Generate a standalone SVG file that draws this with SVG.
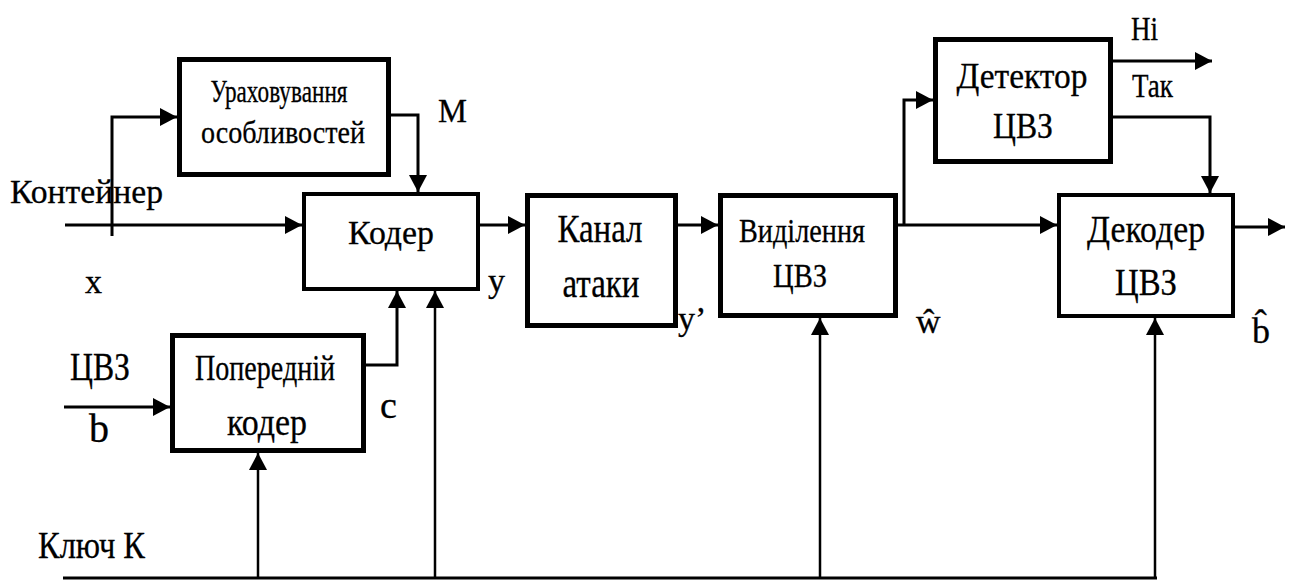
<svg xmlns="http://www.w3.org/2000/svg" width="1295" height="582" viewBox="0 0 1295 582" font-family="Liberation Serif, serif">
<style>
.box{fill:#fff;stroke:#000;stroke-width:5}
.thin{stroke-width:4}
.ln{fill:none;stroke:#000;stroke-width:3}
.key{fill:none;stroke:#000;stroke-width:2.5}
.c{text-anchor:middle}
text{stroke:#000;stroke-width:0.3}
</style>
<defs>
<marker id="ah" markerUnits="userSpaceOnUse" markerWidth="18" markerHeight="18" refX="17" refY="9" orient="auto">
<path d="M0,0 L17,9 L0,18 z" fill="#000"/>
</marker>
</defs>
<rect width="1295" height="582" fill="#fff"/>
<g id="connectors">
<line class="ln" x1="65" y1="225" x2="302" y2="225" marker-end="url(#ah)"/>
<polyline class="ln" points="112,236 112,117 177,117" marker-end="url(#ah)"/>
<polyline class="ln" points="391,115 418,115 418,192" marker-end="url(#ah)"/>
<line class="ln" x1="64" y1="407" x2="170" y2="407" marker-end="url(#ah)"/>
<polyline class="ln" points="366,365 397,365 397,291" marker-end="url(#ah)"/>
<line class="ln" x1="480" y1="225" x2="525" y2="225" marker-end="url(#ah)"/>
<line class="ln" x1="678" y1="225" x2="718" y2="225" marker-end="url(#ah)"/>
<line class="ln" x1="898" y1="225" x2="1057" y2="225" marker-end="url(#ah)"/>
<polyline class="ln" points="904,225 904,100 933,100" marker-end="url(#ah)"/>
<line class="ln" x1="1113" y1="61" x2="1212" y2="61" marker-end="url(#ah)"/>
<polyline class="ln" points="1113,117 1210,117 1210,193" marker-end="url(#ah)"/>
<line class="ln" x1="1235" y1="227" x2="1285" y2="227" marker-end="url(#ah)"/>
<line class="ln" x1="63" y1="578" x2="1157" y2="578"/>
<line class="key" x1="258" y1="578" x2="258" y2="453" marker-end="url(#ah)"/>
<line class="key" x1="435" y1="578" x2="435" y2="291" marker-end="url(#ah)"/>
<line class="key" x1="820" y1="578" x2="820" y2="318" marker-end="url(#ah)"/>
<line class="key" x1="1155" y1="578" x2="1155" y2="318" marker-end="url(#ah)"/>
</g>
<g id="urakhuvannia">
<rect class="box" x="179.5" y="59.5" width="209" height="115"/>
<text class="c" x="279" y="102" font-size="32" textLength="137" lengthAdjust="spacingAndGlyphs">Ураховування</text>
<text class="c" x="283" y="143" font-size="32" textLength="164" lengthAdjust="spacingAndGlyphs">особливостей</text>
</g>
<g id="koder">
<rect class="box thin" x="304" y="194" width="174" height="95"/>
<text class="c" x="391" y="244" font-size="34" textLength="86" lengthAdjust="spacingAndGlyphs">Кодер</text>
</g>
<g id="poperednii">
<rect class="box" x="172.5" y="335.5" width="191" height="115"/>
<text class="c" x="265" y="380" font-size="35" textLength="140" lengthAdjust="spacingAndGlyphs">Попередній</text>
<text class="c" x="267" y="435" font-size="38" textLength="80" lengthAdjust="spacingAndGlyphs">кодер</text>
</g>
<g id="kanal">
<rect class="box" x="527.5" y="195.5" width="148" height="130"/>
<text class="c" x="600" y="242" font-size="39" textLength="85" lengthAdjust="spacingAndGlyphs">Канал</text>
<text class="c" x="601" y="297" font-size="39" textLength="77" lengthAdjust="spacingAndGlyphs">атаки</text>
</g>
<g id="vydilennia">
<rect class="box" x="720.5" y="195.5" width="175" height="120"/>
<text class="c" x="802" y="242" font-size="34" textLength="126" lengthAdjust="spacingAndGlyphs">Виділення</text>
<text class="c" x="800" y="287" font-size="34" textLength="54" lengthAdjust="spacingAndGlyphs">ЦВЗ</text>
</g>
<g id="detektor">
<rect class="box" x="935.5" y="39.5" width="175" height="122"/>
<text class="c" x="1022" y="88" font-size="36" textLength="131" lengthAdjust="spacingAndGlyphs">Детектор</text>
<text class="c" x="1023" y="138" font-size="36" textLength="60" lengthAdjust="spacingAndGlyphs">ЦВЗ</text>
</g>
<g id="dekoder">
<rect class="box thin" x="1059" y="195" width="174" height="121"/>
<text class="c" x="1146" y="242" font-size="38" textLength="118" lengthAdjust="spacingAndGlyphs">Декодер</text>
<text class="c" x="1146" y="295" font-size="38" textLength="62" lengthAdjust="spacingAndGlyphs">ЦВЗ</text>
</g>
<g id="labels">
<text x="10" y="203" font-size="34" textLength="153" lengthAdjust="spacingAndGlyphs">Контейнер</text>
<text x="85" y="293" font-size="34">x</text>
<text x="438" y="122" font-size="34" textLength="29" lengthAdjust="spacingAndGlyphs">M</text>
<text x="488" y="292" font-size="34">y</text>
<text x="678" y="330" font-size="34">y’</text>
<text x="70" y="380" font-size="40" textLength="60" lengthAdjust="spacingAndGlyphs">ЦВЗ</text>
<text x="89" y="442" font-size="40">b</text>
<text x="380" y="418" font-size="38">c</text>
<text x="38" y="558" font-size="38" textLength="107" lengthAdjust="spacingAndGlyphs">Ключ К</text>
<text x="1131" y="40" font-size="34" textLength="27" lengthAdjust="spacingAndGlyphs">Ні</text>
<text x="1132" y="97" font-size="34" textLength="41" lengthAdjust="spacingAndGlyphs">Так</text>
<text x="916" y="333" font-size="34">ŵ</text>
<text x="1252" y="343" font-size="36">b̂</text>
</g>
</svg>
